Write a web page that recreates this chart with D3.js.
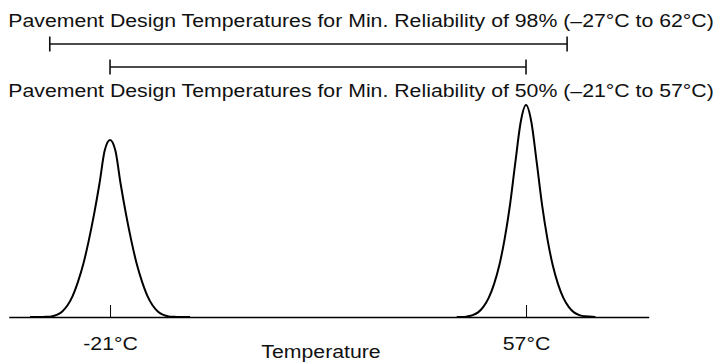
<!DOCTYPE html>
<html><head><meta charset="utf-8">
<script src="https://cdn.jsdelivr.net/npm/d3@7"></script>
<style>html,body{margin:0;padding:0;background:#fff}svg{display:block}</style>
</head><body>
<script>
// ---- data ----
const tickTemps = [-21, 57];
const tickLabels = ["-21\u00B0C", "57\u00B0C"];
const axisTitle = "Temperature";
const rangeLabels = [
  "Pavement Design Temperatures for Min. Reliability of 98% (\u201327\u00B0C to 62\u00B0C)",
  "Pavement Design Temperatures for Min. Reliability of 50% (\u201321\u00B0C to 57\u00B0C)"
];
// bar extents as drawn (schematic, °C)
const rangeStart = [-32.3, -21];
const rangeEnd = [64.7, 57];
// curve points: temperature (°C), relative height
const lowTemps  = [-36,-34,-33,-32,-31,-30,-29,-28,-27,-26,-25,-24,-23,-22,-21,-20,-19,-18,-17,-16,-15,-14,-13,-12,-11,-10,-9,-8,-6];
const lowDens   = [0,0,0.001,0.003,0.010,0.025,0.054,0.100,0.167,0.251,0.359,0.484,0.626,0.785,0.835,0.785,0.626,0.484,0.359,0.251,0.167,0.100,0.054,0.025,0.010,0.003,0.001,0,0];
const highTemps = [44,45,46,47,48,49,50,51,52,53,54,55,56,57,58,59,60,61,62,63,64,65,66,67,68,70];
const highDens  = [0,0,0.003,0.009,0.022,0.048,0.09,0.155,0.245,0.37,0.53,0.73,0.92,1.0,0.92,0.73,0.53,0.37,0.245,0.155,0.09,0.048,0.022,0.009,0.003,0];

const W = 717, H = 362;
const svg = d3.select("body").append("svg").attr("width", W).attr("height", H);
const font = "'Liberation Sans', Arial, Helvetica, sans-serif";
const fs = 18.5, sx = 1.15;

const x = d3.scaleLinear().domain([-40, 80]).range([8.7, 648.7]);
const y = d3.scaleLinear().domain([0, 1]).range([317, 105]);

function stretchedText(g, tx, ty, str, anchor) {
  return g.append("text").attr("transform", `translate(${tx},${ty}) scale(${sx},1)`)
    .attr("text-anchor", anchor || "middle").attr("font-family", font).attr("font-size", fs)
    .attr("fill", "#111").text(str);
}

// axis
const axis = d3.axisBottom(x).tickValues(tickTemps).tickSize(-12).tickFormat("").tickSizeOuter(0);
const gAxis = svg.append("g").attr("transform", "translate(0,317)").call(axis);
gAxis.select(".domain").attr("stroke", "#000").attr("stroke-width", 1.6);
gAxis.selectAll(".tick line").attr("stroke", "#000").attr("stroke-width", 1);
gAxis.selectAll(".tick").each(function(d, i) {
  stretchedText(d3.select(this), 0, 33, tickLabels[i]);
});

stretchedText(svg, 321, 358, axisTitle);

// curves
const line = d3.line().x(d => x(d[0])).y(d => y(d[1])).curve(d3.curveMonotoneX);
[[lowTemps, lowDens], [highTemps, highDens]].forEach(([t, v]) => {
  svg.append("path").datum(t.map((d, i) => [d, v[i]]))
    .attr("d", line).attr("fill", "none").attr("stroke", "#000").attr("stroke-width", 2);
});

// range bars
const barY = [44, 67];
rangeStart.forEach((s, i) => {
  const g = svg.append("g").attr("stroke", "#111").attr("stroke-width", 1.6);
  g.append("line").attr("x1", x(s)).attr("x2", x(rangeEnd[i])).attr("y1", barY[i]).attr("y2", barY[i]);
  g.append("line").attr("x1", x(s)).attr("x2", x(s)).attr("y1", barY[i] - 7.5).attr("y2", barY[i] + 7.5);
  g.append("line").attr("x1", x(rangeEnd[i])).attr("x2", x(rangeEnd[i])).attr("y1", barY[i] - 7.5).attr("y2", barY[i] + 7.5);
});

// range labels
const labelY = [27, 97];
rangeLabels.forEach((t, i) => stretchedText(svg, 361, labelY[i], t));
</script>
</body></html>
